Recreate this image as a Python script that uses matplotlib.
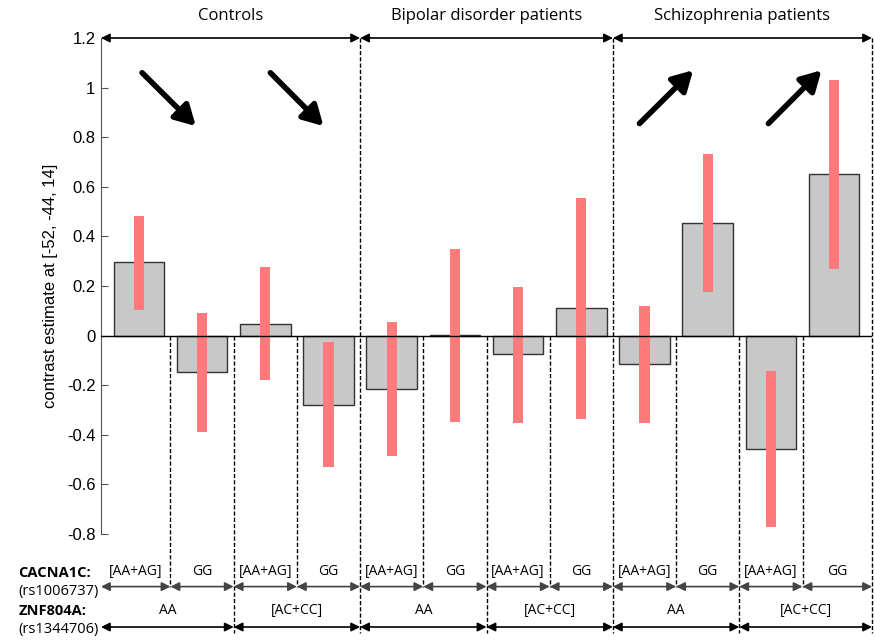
import matplotlib
matplotlib.use("Agg")
from matplotlib import pyplot as plt

# bar estimates (4 per group: Controls, Bipolar, Schizophrenia)
estimates = [0.295, -0.148, 0.048, -0.281,
             -0.215, 0.004, -0.075, 0.110,
             -0.114, 0.456, -0.457, 0.653]
ci_low = [0.102, -0.388, -0.177, -0.531,
          -0.487, -0.347, -0.354, -0.337,
          -0.352, 0.175, -0.773, 0.269]
ci_high = [0.484, 0.091, 0.275, -0.027,
           0.054, 0.351, 0.196, 0.555,
           0.121, 0.734, -0.142, 1.029]
groups = ["Controls", "Bipolar disorder patients", "Schizophrenia patients"]
cacna1c = ["[AA+AG]", "GG"] * 6
znf804a = ["AA", "[AC+CC]"] * 3
yticks = [1.2, 1, 0.8, 0.6, 0.4, 0.2, 0, -0.2, -0.4, -0.6, -0.8]

lab_font = "Open Sans"
xs = list(range(1, len(estimates) + 1))
x0, x1 = 0.4, 12.6

fig = plt.figure(figsize=(8.75, 6.42), dpi=100)
ax = fig.add_axes([0.1154, 0.1682, 0.8812, 0.7726])

ax.bar(xs, estimates, width=0.8, color="#c8c8c8", edgecolor="#333333", linewidth=1, zorder=2)
ax.bar(xs, [h - l for l, h in zip(ci_low, ci_high)], bottom=ci_low, width=0.16,
       color="#ff7b7b", linewidth=0, zorder=3)
ax.axhline(0, color="black", lw=1, zorder=4)

ax.set_xlim(x0, x1)
ax.set_ylim(-0.8, 1.2)
ax.set_yticks(yticks)
ax.set_yticklabels([f"{t:g}" for t in yticks], fontsize=12, family="Liberation Sans")
ax.tick_params(axis="y", direction="in", length=5, color="#555555", pad=4)
ax.set_xticks([])
for s in ["top", "right", "bottom"]:
    ax.spines[s].set_visible(False)
ax.spines["left"].set_color("#555555")
ax.set_ylabel("contrast estimate at [-52, -44, 14]", fontsize=12, family="Liberation Sans", labelpad=6)

# vertical dashed separators
dash = dict(color="black", lw=1, dashes=(3, 1.5), clip_on=False, zorder=1)
group_edges = [4.5, 8.5, x1]
for gx in group_edges:
    ax.plot([gx, gx], [1.2, -1.2], **dash)
for bx in [1.5, 2.5, 3.5, 5.5, 6.5, 7.5, 9.5, 10.5, 11.5]:
    bottom = -1.2 if bx in (2.5, 6.5, 10.5) else -1.015
    ax.plot([bx, bx], [0, bottom], **dash)

def span(a, b, y, color="black"):
    ax.annotate("", xy=(a, y), xytext=(b, y), annotation_clip=False,
                arrowprops=dict(arrowstyle="<|-|>", color=color, lw=1.2,
                                mutation_scale=13, shrinkA=0, shrinkB=0))

# group brackets at top
starts = [x0, 4.5, 8.5]
for g, a, b in zip(groups, starts, group_edges):
    span(a, b, 1.2)
    ax.text((a + b) / 2, 1.255, g, ha="center", va="bottom", fontsize=12, family=lab_font)

# direction arrows
arrows = [((1.05, 1.06), (1.9, 0.845)), ((3.08, 1.06), (3.92, 0.845)),
          ((8.92, 0.855), (9.77, 1.07)), ((10.96, 0.855), (11.8, 1.07))]
for tail, head in arrows:
    ax.annotate("", xy=head, xytext=tail,
                arrowprops=dict(arrowstyle="-|>,head_length=0.8,head_width=0.45",
                                color="black", lw=4, mutation_scale=15, shrinkA=0, shrinkB=0))

# genotype rows
edges1 = [x0, 1.5, 2.5, 3.5, 4.5, 5.5, 6.5, 7.5, 8.5, 9.5, 10.5, 11.5, x1]
for i, lab in enumerate(cacna1c):
    a, b = edges1[i], edges1[i + 1]
    span(a, b, -1.012, color="#444444")
    ax.text((a + b) / 2, -0.982, lab, ha="center", va="bottom", fontsize=10, family=lab_font)
edges2 = [x0, 2.5, 4.5, 6.5, 8.5, 10.5, x1]
for i, lab in enumerate(znf804a):
    a, b = edges2[i], edges2[i + 1]
    span(a, b, -1.175)
    ax.text((a + b) / 2, -1.14, lab, ha="center", va="bottom", fontsize=10, family=lab_font)

fig.text(0.021, 1 - 573 / 642, "CACNA1C:", fontsize=10.5, weight="bold", family=lab_font, va="center")
fig.text(0.021, 1 - 592 / 642, "(rs1006737)", fontsize=10.5, family=lab_font, va="center")
fig.text(0.021, 1 - 611 / 642, "ZNF804A:", fontsize=10.5, weight="bold", family=lab_font, va="center")
fig.text(0.021, 1 - 630 / 642, "(rs1344706)", fontsize=10.5, family=lab_font, va="center")

fig.savefig("out.png", dpi=100)
